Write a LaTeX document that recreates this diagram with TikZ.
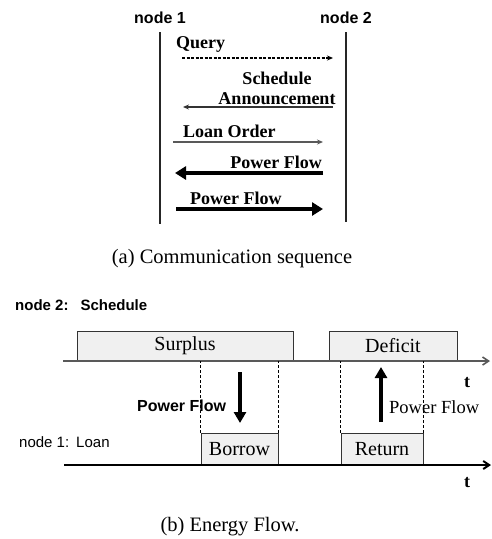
\documentclass[tikz,border=0pt]{standalone}
\usepackage{fontspec}
\setmainfont{Liberation Serif}
\setsansfont{Liberation Sans}
\usetikzlibrary{arrows.meta}

\newcommand{\fsz}[1]{\fontsize{#1}{#1}\selectfont}

\tikzset{
  lifeline/.style={line width=1.6, black!85},
  actor/.style={font=\fsz{16}\sffamily\bfseries, inner sep=0},
  msg/.style={font=\fsz{18}\bfseries, inner sep=0},
  thinmsg/.style={line width=1.1, -{Stealth[length=6, width=5]}},
  querymsg/.style={thinmsg, dash pattern=on 3 off 1.5},
  thickmsg/.style={line width=4, -{Triangle[length=11, width=13]}},
  caption/.style={font=\fsz{20.5}, inner sep=0},
  rowlabel/.style={font=\fsz{15}\sffamily, inner sep=0},
  slot/.style={draw=black!80, fill=black!6, line width=0.9, inner sep=0,
               font=\fsz{20}, minimum height=30},
  lowslot/.style={slot, minimum height=32},
  axisup/.style={line width=1.6, black!65, -{Straight Barb[length=6, width=8]}},
  axislow/.style={line width=2, black, -{Straight Barb[length=6, width=8]}},
  guide/.style={line width=0.9, black, dash pattern=on 3 off 2},
  flow/.style={line width=4, -{Triangle[length=11, width=12]}},
  tlabel/.style={font=\fsz{18}\bfseries, inner sep=0},
}

\begin{document}
\begin{tikzpicture}[x=1pt, y=-1pt]
\useasboundingbox (0,0) rectangle (492,539);

% ---------- (a) message sequence ----------
\node[actor] (n1) at (160,18) {node 1};
\node[actor] (n2) at (346,18) {node 2};
\coordinate (n1top) at (160,32);
\coordinate (n1bot) at (160,224);
\coordinate (n2top) at (346,32);
\coordinate (n2bot) at (346,222);
\draw[lifeline] (n1top) -- (n1bot);
\draw[lifeline] (n2top) -- (n2bot);

% query
\coordinate (q1) at (182,58);
\coordinate (q2) at (333,58);
\node[msg, anchor=west] (qtxt) at (176,44) {Query};
\draw[querymsg] (q1) -- (q2);

% schedule announcement
\node[msg, align=center, font=\fontsize{18}{20}\selectfont\bfseries] (satxt) at (277,88) {Schedule\\Announcement};
\coordinate (s1) at (333,107);
\coordinate (s2) at (183,107);
\draw[thinmsg, black!80] (s1) -- (s2);

% loan order
\node[msg, anchor=west] (lotxt) at (183,131) {Loan Order};
\coordinate (l1) at (173,142);
\coordinate (l2) at (323,142);
\draw[thinmsg, black!65] (l1) -- (l2);

% power flow, node 2 to node 1
\node[msg, anchor=east] (pf1txt) at (322,162) {Power Flow};
\coordinate (p1a) at (323,173);
\coordinate (p1b) at (175,173);
\draw[thickmsg] (p1a) -- (p1b);

% power flow, node 1 to node 2
\node[msg, anchor=west] (pf2txt) at (190,198) {Power Flow};
\coordinate (p2a) at (176,209);
\coordinate (p2b) at (323,209);
\draw[thickmsg] (p2a) -- (p2b);

\node[caption] (capa) at (232,259) {(a) Communication sequence};

% ---------- (b) energy flow over time ----------
\node[rowlabel, font=\fsz{15}\sffamily\bfseries, anchor=west] (sched) at (15,305) {node 2:\hspace{12pt}Schedule};

\node[slot, minimum width=216] (surplus) at (185,346) {Surplus};
\node[slot, minimum width=128] (deficit) at (393,346) {Deficit};

\coordinate (ax1s) at (63,361);
\coordinate (ax1e) at (490,361);
\draw[axisup] (ax1s) -- (ax1e);
\node[tlabel] (t1) at (467,383) {t};

\node[rowlabel, anchor=west] (loan) at (19,442) {node 1:\hspace{7pt}Loan};

\node[lowslot, minimum width=77] (borrow) at (239.5,449) {Borrow};
\node[lowslot, minimum width=82] (return) at (382,449) {Return};

\coordinate (ax2s) at (64,465);
\coordinate (ax2e) at (491,465);
\draw[axislow] (ax2s) -- (ax2e);
\node[tlabel] (t2) at (467,483) {t};

% guides from the schedule axis down to the loan slots
\draw[guide] (borrow.north west) -- (borrow.north west |- ax1s);
\draw[guide] (borrow.north east) -- (borrow.north east |- ax1s);
\draw[guide] (return.north west) -- (return.north west |- ax1s);
\draw[guide] (return.north east) -- (return.north east |- ax1s);

% power flow arrows between the rows
\coordinate (fd1) at (240,372);
\coordinate (fd2) at (240,423);
\draw[flow] (fd1) -- (fd2);
\node[font=\fsz{16}\sffamily\bfseries, inner sep=0, anchor=west] (pfl) at (137,406) {Power Flow};

\coordinate (fu1) at (381,422);
\coordinate (fu2) at (381,367);
\draw[flow] (fu1) -- (fu2);
\node[font=\fsz{18.5}, inner sep=0, anchor=west] (pfr) at (389,407) {Power Flow};

\node[caption] (capb) at (230,527) {(b) Energy Flow.};
\end{tikzpicture}
\end{document}
